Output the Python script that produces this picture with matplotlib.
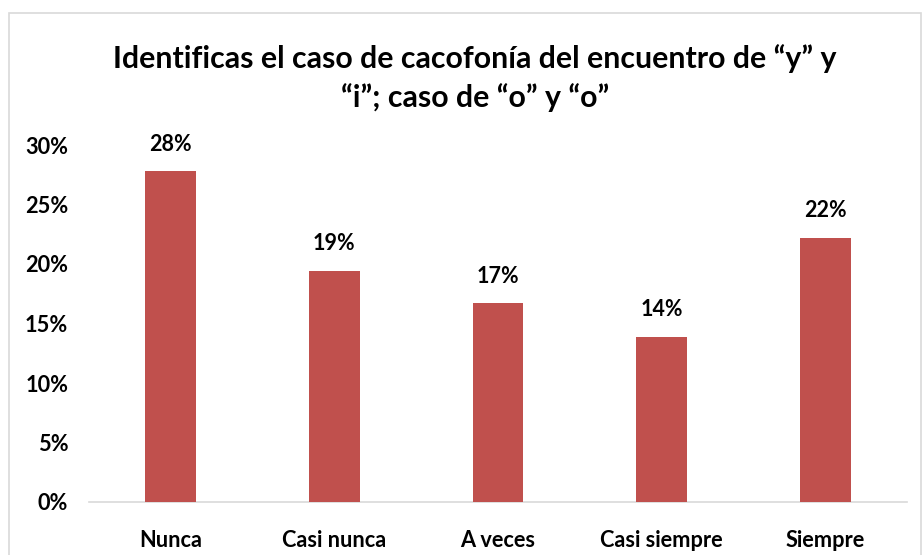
import matplotlib
matplotlib.use("Agg")
import matplotlib.pyplot as plt
from matplotlib.ticker import FuncFormatter
from matplotlib.patches import Rectangle

categories = ["Nunca", "Casi nunca", "A veces", "Casi siempre", "Siempre"]
values = [0.278, 0.194, 0.167, 0.139, 0.222]
labels = ["28%", "19%", "17%", "14%", "22%"]
yticks = [0, 0.05, 0.10, 0.15, 0.20, 0.25, 0.30]
title = "Identificas el caso de cacofonía del encuentro de “y” y\n“i”; caso de “o” y “o”"

W = 'bold'
plt.rcParams['font.family'] = ['Lato', 'DejaVu Sans']
plt.rcParams['font.weight'] = W

fig = plt.figure(figsize=(9.24, 5.55), dpi=100)
fig.patch.set_facecolor('white')
fig.patches.append(Rectangle((9/924, -0.1), 912/924, (555-13)/555 + 0.1, transform=fig.transFigure,
                             fill=False, edgecolor='#d9d9d9', linewidth=1.2))

ax = fig.add_axes([89/924, 53/555, 818/924, 357/555])
x = range(len(categories))
bars = ax.bar(x, values, width=0.31, color='#C0504D', zorder=3)
for b, lab in zip(bars, labels):
    ax.annotate(lab, (b.get_x() + b.get_width()/2, b.get_height()), xytext=(0, 12),
                textcoords='offset points', ha='center', va='bottom', fontsize=15.5, fontweight=W)

ax.set_xlim(-0.5, len(categories) - 0.5)
ax.set_ylim(0, 0.30)
ax.set_yticks(yticks)
ax.yaxis.set_major_formatter(FuncFormatter(lambda v, p: f"{v*100:.0f}%"))
ax.set_xticks(list(x))
ax.set_xticklabels(categories)
ax.tick_params(axis='both', length=0, labelsize=15.7)
ax.tick_params(axis='x', pad=20)
ax.tick_params(axis='y', pad=15)
for lbl in ax.get_xticklabels() + ax.get_yticklabels():
    lbl.set_fontweight(W)
for s in ['top', 'right', 'left']:
    ax.spines[s].set_visible(False)
ax.spines['bottom'].set_color('#d9d9d9')
ax.spines['bottom'].set_linewidth(1.2)

fig.text(475/924, 1 - 78/555, title, ha='center', va='center', fontsize=21.8, fontweight=W,
         linespacing=1.42)

fig.savefig('out.png', dpi=100)
